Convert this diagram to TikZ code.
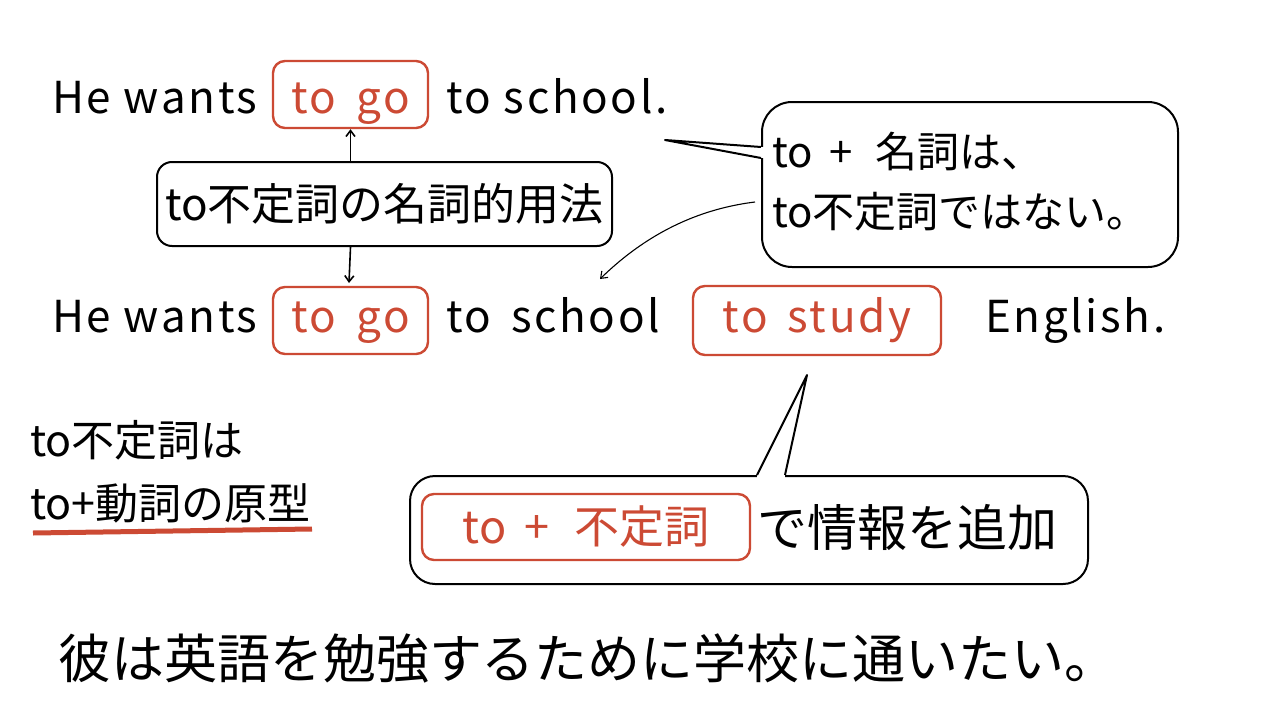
\documentclass[tikz,border=0pt]{standalone}
\usepackage{fontspec}
\setmainfont{Noto Sans CJK JP}
\newfontfamily\latn[LetterSpace=6]{Noto Sans CJK JP}
\usetikzlibrary{arrows.meta}
\definecolor{hred}{RGB}{204,74,52}
\tikzset{
  txt/.style={inner sep=0pt, font=\latn\fontsize{44}{50}\selectfont},
  jp/.style={inner sep=0pt, font=\fontsize{#1}{#1}\selectfont},
  redbox/.style={draw=hred, line width=2.4pt, rounded corners=12pt, text=hred, inner sep=0pt, font=\latn\fontsize{44}{50}\selectfont},
  blackbox/.style={draw=black, line width=2pt, rounded corners=#1},
  arr/.style={line width=1.6pt, -{Straight Barb[length=6pt,width=9pt]}},
}
\begin{document}
\begin{tikzpicture}[x=1pt,y=-1pt]
\useasboundingbox (0,0) rectangle (1280,720);
\fill[white] (0,0) rectangle (1280,720);

% line 1
\node[txt, anchor=base west] (l1a) at (52,113) {He wants};
\node[redbox, anchor=base, text height=52pt, text depth=15pt, minimum width=155pt] (r1) at (350.5,113) {to\ \,go};
\node[txt, anchor=base west] (l1b) at (446,113) {to school.};

% usage box
\node[blackbox=15pt, minimum width=455pt, minimum height=84pt, jp=44] (use) at (384.5,204) {to不定詞の名詞的用法};
\draw[arr] (use.north -| r1.south) -- (r1.south);

% line 2
\node[txt, anchor=base west] (l2a) at (52,332) {He wants};
\node[redbox, anchor=base, text height=45pt, text depth=22pt, minimum width=155pt] (r2) at (350.5,332) {to\ \,go};
\node[txt, anchor=base west] (l2b) at (446,332) {to\ \,school};
\node[redbox, anchor=base, text height=46pt, text depth=23pt, minimum width=248pt] (r3) at (817,332) {to\ \,study};
\node[txt, anchor=base west] (l2c) at (985,332) {English.};
\coordinate (dtip) at (349,283);
\draw[arr] (use.south -| r1.south) -- (dtip);

% callout 1
\node[blackbox=30pt, minimum width=416pt, minimum height=165pt] (c1) at (970,184.5) {};
\fill[white] (758,147) rectangle (766,158);
\coordinate (c1tip) at (665,140);
\draw[line width=2pt, line join=round] (c1.west |- 0,147) -- (c1tip) -- (c1.west |- 0,158);
\node[jp=42, anchor=west] (c1a) at (772,152) {to\, +\,\, 名詞は、};
\node[jp=42, anchor=west] (c1b) at (772,212) {to不定詞ではない。};
\coordinate (cs) at (755,202);
\coordinate (ce) at (600,279);
\draw[line width=1.1pt, -{Straight Barb[length=6pt,width=9pt]}] (cs) .. controls (690,210) and (640,240) .. (ce);

% callout 2
\node[blackbox=25pt, minimum width=678pt, minimum height=108pt] (c2) at (749,530) {};
\fill[white] (757,472) rectangle (785,480);
\coordinate (c2tip) at (807,375);
\draw[line width=2pt, line join=round] (c2.north -| 757,0) -- (c2tip) -- (c2.north -| 785,0);
\node[redbox, minimum width=328pt, minimum height=66pt, font=\fontsize{45}{45}\selectfont] (r4) at (586,527) {to\, +\,\, 不定詞};
\node[jp=50, anchor=west] (c2b) at (757,527) {で情報を追加};

% left note
\node[jp=43, anchor=west] (n1) at (30,440) {to不定詞は};
\node[jp=43, anchor=west] (n2) at (30,503) {to+動詞の原型};
\coordinate (u1) at (33,533);
\coordinate (u2) at (312,529);
\draw[hred, line width=5pt] (u1) -- (u2);

% bottom sentence
\node[jp=53] (jp) at (588,658) {彼は英語を勉強するために学校に通いたい。};
\end{tikzpicture}
\end{document}
